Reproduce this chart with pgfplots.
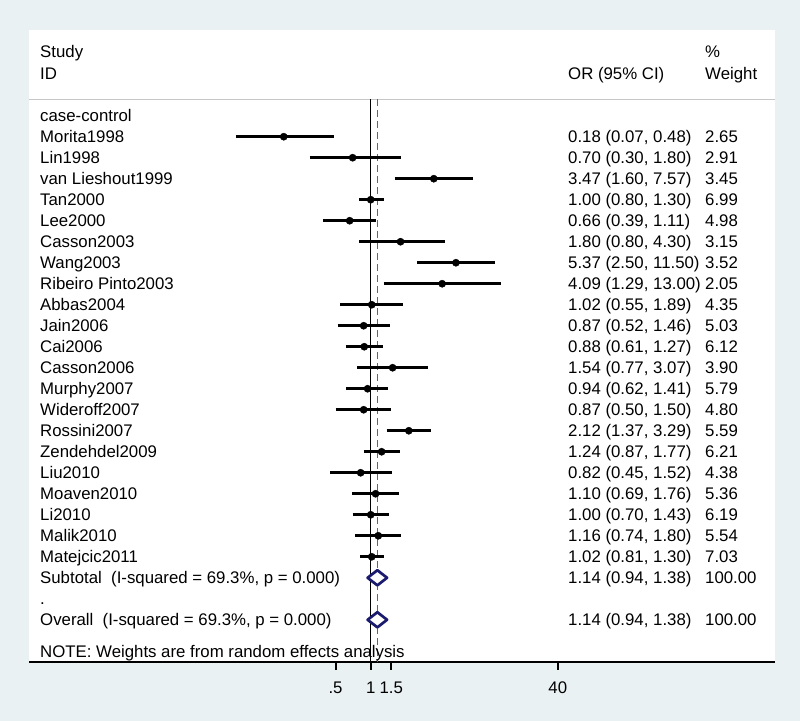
\documentclass[border=0pt]{standalone}
\usepackage{fontspec}
\setmainfont{Liberation Sans}
\usepackage{pgfplots}
\pgfplotsset{compat=1.18}
\definecolor{bgc}{RGB}{234,241,243}
\definecolor{navy}{RGB}{26,26,110}
\definecolor{refred}{RGB}{190,60,85}
\newcommand{\fnt}{\fontsize{16.8bp}{20bp}\selectfont}
\tikzset{lab/.style={anchor=west, inner sep=0pt, text height=12bp, text depth=0pt, font=\fnt}}
\newcommand{\rowtext}[4]{%
  \node[lab] at (40bp,{(605.3-21*#1)*1bp}) {#2};
  \node[lab] at (568bp,{(605.3-21*#1)*1bp}) {#3};
  \node[lab] at (705bp,{(605.3-21*#1)*1bp}) {#4};
}
\begin{document}
\begin{tikzpicture}
\fill[bgc] (0,0) rectangle (800bp,721bp);
\begin{axis}[
  at={(29bp,59bp)}, anchor=south west,
  width=746bp, height=632bp, scale only axis,
  xmode=log, xmin=0.001183, xmax=2902,
  ymin=-26.01, ymax=4.081,
  axis background/.style={fill=white},
  axis x line*=bottom, axis y line=none,
  x axis line style={line width=1.8bp, -},
  xtick={0.5,1,1.5,40}, xticklabels={.5,1,1.5,40},
  minor xtick={},
  xtick align=outside, major tick length=8bp,
  xtick style={draw=black, line width=2bp},
  xticklabel style={font=\fnt, anchor=center, inner sep=0pt, text height=12bp, text depth=0pt, yshift=-17.7bp},
  /pgf/number format/assume math mode=true,
  clip=false,
]
% header separator
\draw[black!22, line width=1.5bp] ({rel axis cs:0,0}|-{axis cs:1,0.781}) -- ({rel axis cs:1,0}|-{axis cs:1,0.781});
% null line and overall line
\addplot[black, line width=1.5bp] coordinates {(1,0.781) (1,-26.01)};
\addplot[draw=refred, line width=1.7bp, dash pattern=on 7bp off 4bp] coordinates {(1.14,0.781) (1.14,-26.01)};
% tick marks on the x axis
\addplot[black, line width=2bp, forget plot] coordinates {(0.5,-26.01) (0.5,-26.40)};
\addplot[black, line width=2bp, forget plot] coordinates {(1,-26.01) (1,-26.40)};
\addplot[black, line width=2bp, forget plot] coordinates {(1.5,-26.01) (1.5,-26.40)};
\addplot[black, line width=2bp, forget plot] coordinates {(40,-26.01) (40,-26.40)};
% confidence intervals
\addplot[black, line width=2.7bp] coordinates {(0.07,-1) (0.48,-1)};
\addplot[black, line width=2.7bp] coordinates {(0.30,-2) (1.80,-2)};
\addplot[black, line width=2.7bp] coordinates {(1.60,-3) (7.57,-3)};
\addplot[black, line width=2.7bp] coordinates {(0.80,-4) (1.30,-4)};
\addplot[black, line width=2.7bp] coordinates {(0.39,-5) (1.11,-5)};
\addplot[black, line width=2.7bp] coordinates {(0.80,-6) (4.30,-6)};
\addplot[black, line width=2.7bp] coordinates {(2.50,-7) (11.50,-7)};
\addplot[black, line width=2.7bp] coordinates {(1.29,-8) (13.00,-8)};
\addplot[black, line width=2.7bp] coordinates {(0.55,-9) (1.89,-9)};
\addplot[black, line width=2.7bp] coordinates {(0.52,-10) (1.46,-10)};
\addplot[black, line width=2.7bp] coordinates {(0.61,-11) (1.27,-11)};
\addplot[black, line width=2.7bp] coordinates {(0.77,-12) (3.07,-12)};
\addplot[black, line width=2.7bp] coordinates {(0.62,-13) (1.41,-13)};
\addplot[black, line width=2.7bp] coordinates {(0.50,-14) (1.50,-14)};
\addplot[black, line width=2.7bp] coordinates {(1.37,-15) (3.29,-15)};
\addplot[black, line width=2.7bp] coordinates {(0.87,-16) (1.77,-16)};
\addplot[black, line width=2.7bp] coordinates {(0.45,-17) (1.52,-17)};
\addplot[black, line width=2.7bp] coordinates {(0.69,-18) (1.76,-18)};
\addplot[black, line width=2.7bp] coordinates {(0.70,-19) (1.43,-19)};
\addplot[black, line width=2.7bp] coordinates {(0.74,-20) (1.80,-20)};
\addplot[black, line width=2.7bp] coordinates {(0.81,-21) (1.30,-21)};
% point estimates
\addplot[only marks, mark=*, mark size=3.6bp, black] coordinates {
(0.18,-1) (0.70,-2) (3.47,-3) (1.00,-4) (0.66,-5) (1.80,-6) (5.37,-7)
(4.09,-8) (1.02,-9) (0.87,-10) (0.88,-11) (1.54,-12) (0.94,-13) (0.87,-14)
(2.12,-15) (1.24,-16) (0.82,-17) (1.10,-18) (1.00,-19) (1.16,-20) (1.02,-21)};
% pooled diamonds
\addplot[navy, line width=2.7bp, line join=round, fill=white] coordinates {(0.94,-22) (1.14,-21.64) (1.38,-22) (1.14,-22.36)} -- cycle;
\addplot[navy, line width=2.7bp, line join=round, fill=white] coordinates {(0.94,-24) (1.14,-23.64) (1.38,-24) (1.14,-24.36)} -- cycle;
\end{axis}
% headers
\node[lab] at (40bp,669.3bp) {Study};
\node[lab] at (40bp,647.7bp) {ID};
\node[lab] at (568bp,647.7bp) {OR (95\% CI)};
\node[lab] at (705bp,669.3bp) {\%};
\node[lab] at (705bp,647.7bp) {Weight};
\node[lab] at (40bp,605.3bp) {case-control};
\rowtext{1}{Morita1998}{0.18 (0.07, 0.48)}{2.65}
\rowtext{2}{Lin1998}{0.70 (0.30, 1.80)}{2.91}
\rowtext{3}{van Lieshout1999}{3.47 (1.60, 7.57)}{3.45}
\rowtext{4}{Tan2000}{1.00 (0.80, 1.30)}{6.99}
\rowtext{5}{Lee2000}{0.66 (0.39, 1.11)}{4.98}
\rowtext{6}{Casson2003}{1.80 (0.80, 4.30)}{3.15}
\rowtext{7}{Wang2003}{5.37 (2.50, 11.50)}{3.52}
\rowtext{8}{Ribeiro Pinto2003}{4.09 (1.29, 13.00)}{2.05}
\rowtext{9}{Abbas2004}{1.02 (0.55, 1.89)}{4.35}
\rowtext{10}{Jain2006}{0.87 (0.52, 1.46)}{5.03}
\rowtext{11}{Cai2006}{0.88 (0.61, 1.27)}{6.12}
\rowtext{12}{Casson2006}{1.54 (0.77, 3.07)}{3.90}
\rowtext{13}{Murphy2007}{0.94 (0.62, 1.41)}{5.79}
\rowtext{14}{Wideroff2007}{0.87 (0.50, 1.50)}{4.80}
\rowtext{15}{Rossini2007}{2.12 (1.37, 3.29)}{5.59}
\rowtext{16}{Zendehdel2009}{1.24 (0.87, 1.77)}{6.21}
\rowtext{17}{Liu2010}{0.82 (0.45, 1.52)}{4.38}
\rowtext{18}{Moaven2010}{1.10 (0.69, 1.76)}{5.36}
\rowtext{19}{Li2010}{1.00 (0.70, 1.43)}{6.19}
\rowtext{20}{Malik2010}{1.16 (0.74, 1.80)}{5.54}
\rowtext{21}{Matejcic2011}{1.02 (0.81, 1.30)}{7.03}
\rowtext{22}{Subtotal\ \ (I-squared = 69.3\%, p = 0.000)}{1.14 (0.94, 1.38)}{100.00}
\node[lab] at (40bp,{(605.3-21*23)*1bp}) {.};
\rowtext{24}{Overall\ \ (I-squared = 69.3\%, p = 0.000)}{1.14 (0.94, 1.38)}{100.00}
\node[lab] at (40bp,{(605.3-21*25.52)*1bp}) {NOTE: Weights are from random effects analysis};
\end{tikzpicture}
\end{document}
